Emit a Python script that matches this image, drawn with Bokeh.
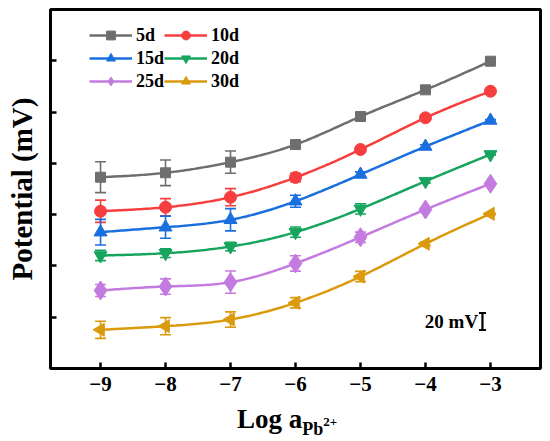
import numpy as np
from bokeh.plotting import figure
from bokeh.layouts import column
from bokeh.models import (ColumnDataSource, Whisker, TeeHead, Legend, LegendItem,
                          Label, FixedTicker, Range1d, Div)
from bokeh.embed import file_html
from bokeh.resources import INLINE

# ---------------- data ----------------
log_a = [-9, -8, -7, -6, -5, -4, -3]
series_names = ["5d", "10d", "15d", "20d", "25d", "30d"]

pot_5d = [223.8, 229.0, 241.4, 262.0, 294.8, 326.0, 359.5]
pot_10d = [184.0, 188.7, 200.4, 223.5, 256.2, 293.3, 324.4]
pot_15d = [159.5, 165.3, 174.0, 195.7, 227.0, 259.7, 290.2]
pot_20d = [132.2, 134.9, 142.7, 159.5, 186.8, 219.1, 250.4]
pot_25d = [91.3, 95.9, 101.0, 122.9, 153.6, 186.0, 216.1]
pot_30d = [45.3, 49.5, 57.3, 76.9, 107.6, 145.9, 181.0]

err_5d = [18, 15, 13, 3, 2, 1, 1]
err_10d = [13, 10, 10, 5, 2, 1, 1]
err_15d = [15, 13, 13, 7, 3, 2, 1]
err_20d = [6, 5, 5, 6, 6, 2, 1]
err_25d = [7, 9, 13, 9, 6, 2, 1]
err_30d = [10, 10, 9, 6, 6, 2, 1]

x_ticks = [-9, -8, -7, -6, -5, -4, -3]
x_tick_labels = ["\u22129", "\u22128", "\u22127", "\u22126", "\u22125", "\u22124", "\u22123"]
y_ticks = [60, 120, 180, 240, 300, 360]

scale_bar_mv = 20
scale_bar_text = "20 mV"

series_values = [pot_5d, pot_10d, pot_15d, pot_20d, pot_25d, pot_30d]
series_errors = [err_5d, err_10d, err_15d, err_20d, err_25d, err_30d]

# ---------------- styles ----------------
colors = ["#6E6E6E", "#F73E3E", "#1A6FDF", "#17A55E", "#C47BE0", "#DB9A0C"]
markers = ["square", "circle", "triangle", "inverted_triangle", "diamond", "triangle"]
angles = [0, 0, 0, 0, 0, np.pi / 2]
sizes = [10, 12, 13, 13, 19, 13]
FONT = "Liberation Serif"


def smooth_curve(xs, ys, n=25):
    """Natural cubic spline through the data points, for drawing the line."""
    x = np.asarray(xs, float)
    y = np.asarray(ys, float)
    m = len(x)
    h = np.diff(x)
    A = np.zeros((m, m))
    b = np.zeros(m)
    A[0, 0] = 1
    A[-1, -1] = 1
    for i in range(1, m - 1):
        A[i, i - 1] = h[i - 1]
        A[i, i] = 2 * (h[i - 1] + h[i])
        A[i, i + 1] = h[i]
        b[i] = 6 * ((y[i + 1] - y[i]) / h[i] - (y[i] - y[i - 1]) / h[i - 1])
    M = np.linalg.solve(A, b)
    xo, yo = [], []
    for i in range(m - 1):
        t = np.linspace(x[i], x[i + 1], n, endpoint=(i == m - 2))
        a = x[i + 1] - t
        c = t - x[i]
        s = (M[i] * a ** 3 + M[i + 1] * c ** 3) / (6 * h[i]) \
            + (y[i] / h[i] - M[i] * h[i] / 6) * a \
            + (y[i + 1] / h[i] - M[i + 1] * h[i] / 6) * c
        xo.extend(t)
        yo.extend(s)
    return xo, yo


p = figure(frame_width=490, frame_height=359,
           min_border_left=50, min_border_right=8, min_border_top=9, min_border_bottom=35,
           x_range=Range1d(-9.77, -2.23), y_range=Range1d(0, 420),
           output_backend="svg", toolbar_location=None)

p.background_fill_color = "white"
p.border_fill_color = "white"
p.outline_line_color = "black"
p.outline_line_width = 3
p.xgrid.visible = False
p.ygrid.visible = False

for ax in (p.xaxis[0], p.yaxis[0]):
    ax.axis_line_width = 3
    ax.axis_line_color = "black"
    ax.major_tick_in = 6
    ax.major_tick_out = 0
    ax.major_tick_line_width = 2.5
    ax.minor_tick_line_color = None

p.xaxis.ticker = FixedTicker(ticks=x_ticks)
p.xaxis.major_label_overrides = {t: l for t, l in zip(x_ticks, x_tick_labels)}
p.xaxis.major_label_text_font = FONT
p.xaxis.major_label_text_font_style = "bold"
p.xaxis.major_label_text_font_size = "21px"
p.xaxis.major_label_text_color = "black"
p.xaxis.major_label_standoff = 8

p.yaxis.ticker = FixedTicker(ticks=y_ticks)
p.yaxis.major_label_overrides = {t: "" for t in y_ticks}
p.yaxis.axis_label = "Potential (mV)"
p.yaxis.axis_label_text_font = FONT
p.yaxis.axis_label_text_font_style = "bold"
p.yaxis.axis_label_text_font_size = "29px"
p.yaxis.axis_label_text_color = "black"
p.yaxis.axis_label_standoff = 13

items = []
for name, vals, errs, col, mk, ang, sz in zip(series_names, series_values, series_errors,
                                              colors, markers, angles, sizes):
    upper = [v + e for v, e in zip(vals, errs)]
    lower = [v - e for v, e in zip(vals, errs)]
    src = ColumnDataSource(dict(x=log_a, y=vals, upper=upper, lower=lower))
    p.add_layout(Whisker(base="x", upper="upper", lower="lower", source=src,
                         line_color=col, line_width=1.6,
                         upper_head=TeeHead(size=11, line_color=col, line_width=1.6),
                         lower_head=TeeHead(size=11, line_color=col, line_width=1.6)))
    sx, sy = smooth_curve(log_a, vals)
    ln = p.line(sx, sy, line_color=col, line_width=2.5)
    sc = p.scatter("x", "y", source=src, marker=mk, size=sz, angle=ang,
                   fill_color=col, line_color=col)
    items.append(LegendItem(label=name, renderers=[ln, sc]))

legend_style = dict(glyph_width=43, glyph_height=22, label_standoff=4, spacing=1,
                    padding=0, margin=0,
                    label_text_font=FONT, label_text_font_style="bold",
                    label_text_font_size="18px", label_text_color="black",
                    border_line_alpha=0, background_fill_alpha=0)
p.add_layout(Legend(items=items[0::2], location=(39, 276), **legend_style))
p.add_layout(Legend(items=items[1::2], location=(114, 276), **legend_style))

# scale bar
bar_x = -3.123
bar_mid = 55
bar_src = ColumnDataSource(dict(x=[bar_x], upper=[bar_mid + scale_bar_mv / 2],
                                lower=[bar_mid - scale_bar_mv / 2]))
p.add_layout(Whisker(base="x", upper="upper", lower="lower", source=bar_src,
                     line_color="black", line_width=2.2,
                     upper_head=TeeHead(size=7, line_color="black", line_width=2),
                     lower_head=TeeHead(size=7, line_color="black", line_width=2)))
p.add_layout(Label(x=-3.19, y=bar_mid, text=scale_bar_text, text_align="right",
                   text_baseline="middle", text_font=FONT, text_font_style="bold",
                   text_font_size="19px", text_color="black"))

# x-axis title: Log a_{Pb^{2+}} as real HTML text below the plot
x_title_html = (
    '<div style="position:absolute; left:232px; top:-2px; white-space:nowrap; '
    "font-family:'Liberation Serif'; font-weight:bold; font-size:27px; "
    'line-height:1; color:black;">Log a'
    '<span style="font-size:18px; position:relative; top:7px;">Pb'
    '<span style="font-size:13px; position:relative; top:-9px;">2+</span></span></div>'
)
x_title = Div(text=x_title_html, width=548, height=38)

layout = column(p, x_title, spacing=0)
open("out.html", "w").write(file_html(layout, INLINE))
